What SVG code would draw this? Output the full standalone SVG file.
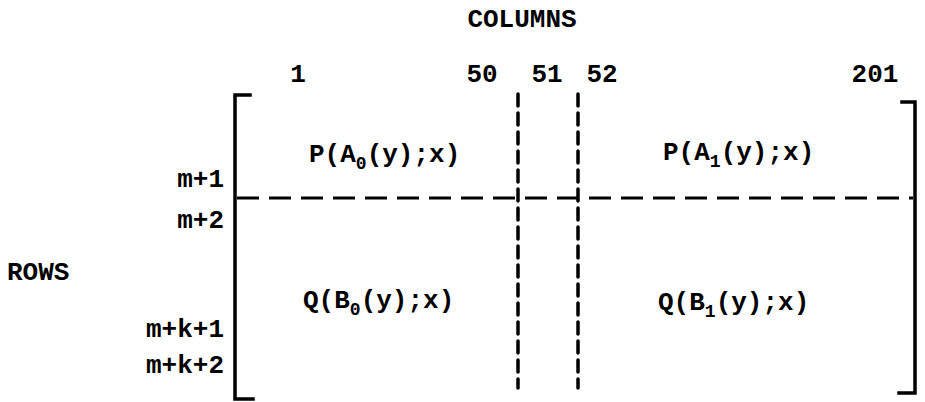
<svg xmlns="http://www.w3.org/2000/svg" width="925" height="402" viewBox="0 0 925 402">
<style>
text{font-family:"Liberation Mono","Courier New",monospace;font-weight:bold;font-size:26px;fill:#000}
.sub{font-size:18px}
.br{fill:none;stroke:#000;stroke-width:3.5;stroke-linecap:square}
.dh{fill:none;stroke:#000;stroke-width:3;stroke-dasharray:22 10}
.dv{fill:none;stroke:#000;stroke-width:3.5;stroke-dasharray:12 7;stroke-linecap:round}
.r{text-anchor:end}
.m{text-anchor:middle}
</style>
<rect width="925" height="402" fill="#fff"/>
<g id="headings">
<text x="522" y="27" class="m">COLUMNS</text>
<text x="7" y="280">ROWS</text>
</g>
<g id="column-numbers">
<text x="298" y="82" class="m">1</text>
<text x="482" y="82" class="m">50</text>
<text x="547" y="82" class="m">51</text>
<text x="602" y="82" class="m">52</text>
<text x="875" y="82" class="m">201</text>
</g>
<g id="row-numbers">
<text x="224" y="187" class="r">m+1</text>
<text x="224" y="228" class="r">m+2</text>
<text x="224" y="337" class="r">m+k+1</text>
<text x="224" y="373" class="r">m+k+2</text>
</g>
<g id="brackets">
<path class="br" d="M250,95 H235 V399 H253"/>
<path class="br" d="M902,102 H915 V393 H899"/>
</g>
<g id="connectors">
<path class="dh" d="M237,198 H913"/>
<path class="dv" d="M518,94 V388"/>
<path class="dv" d="M578,94 V388"/>
</g>
<g id="block-P0"><text x="309" y="162">P(A<tspan class="sub" dy="7">0</tspan><tspan dy="-7">(y);x)</tspan></text></g>
<g id="block-P1"><text x="663" y="160">P(A<tspan class="sub" dy="7">1</tspan><tspan dy="-7">(y);x)</tspan></text></g>
<g id="block-Q0"><text x="303" y="308">Q(B<tspan class="sub" dy="7">0</tspan><tspan dy="-7">(y);x)</tspan></text></g>
<g id="block-Q1"><text x="658" y="310">Q(B<tspan class="sub" dy="7">1</tspan><tspan dy="-7">(y);x)</tspan></text></g>
</svg>
